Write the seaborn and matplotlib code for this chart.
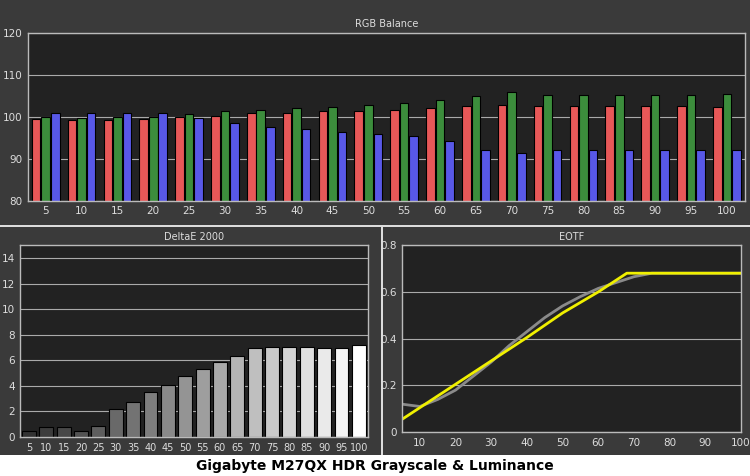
import numpy as np
import pandas as pd
import matplotlib
matplotlib.use("Agg")
import matplotlib.pyplot as plt
from matplotlib.patches import Rectangle
import seaborn as sns

# ============================================================
# Data
# ============================================================

levels = [5, 10, 15, 20, 25, 30, 35, 40, 45, 50, 55, 60, 65, 70, 75, 80, 85, 90, 95, 100]

red = [99.5, 99.2, 99.3, 99.5, 99.9, 100.1, 100.8, 100.8, 101.3, 101.5,
       101.7, 102.0, 102.6, 102.8, 102.6, 102.6, 102.6, 102.6, 102.6, 102.4]
green = [99.9, 99.7, 99.9, 99.9, 100.6, 101.5, 101.7, 102.2, 102.4, 102.8,
         103.3, 103.9, 105.0, 106.0, 105.3, 105.3, 105.3, 105.3, 105.3, 105.5]
blue = [100.8, 101.0, 101.0, 100.8, 99.7, 98.5, 97.6, 97.2, 96.5, 96.0,
        95.4, 94.2, 92.2, 91.3, 92.2, 92.2, 92.2, 92.2, 92.2, 92.2]

delta_e = [0.5, 0.75, 0.75, 0.5, 0.85, 2.2, 2.7, 3.5, 4.1, 4.8,
           5.3, 5.9, 6.3, 6.95, 7.0, 7.0, 7.0, 6.95, 6.95, 7.2]

eotf_meas_x = [5, 10, 15, 20, 25, 30, 35, 40, 45, 50, 55, 60, 65, 70, 75, 80, 85, 90, 95, 100]
eotf_meas_y = [0.12, 0.11, 0.14, 0.18, 0.24, 0.30, 0.37, 0.43, 0.49, 0.54,
               0.58, 0.615, 0.64, 0.665, 0.68, 0.68, 0.68, 0.68, 0.68, 0.68]
eotf_target_x = [5, 10, 20, 30, 40, 50, 60, 68, 100]
eotf_target_y = [0.055, 0.105, 0.205, 0.305, 0.405, 0.51, 0.6, 0.68, 0.68]

title = "Gigabyte M27QX HDR Grayscale & Luminance"

# ============================================================
# Figure
# ============================================================

sns.set_style("dark")
plt.rcParams["font.family"] = ["DejaVu Sans"]

fig = plt.figure(figsize=(7.5, 4.76), dpi=100)
fig.patch.set_facecolor("#3a3a3a")
fig.patches.append(Rectangle((0, 0), 1, 0.045, transform=fig.transFigure,
                             facecolor="white", edgecolor="none", zorder=0))
fig.patches.append(Rectangle((0.508, 0.045), 0.003, 0.48, transform=fig.transFigure,
                             facecolor="#dddddd", edgecolor="none", zorder=0))
fig.patches.append(Rectangle((0, 0.524), 1, 0.003, transform=fig.transFigure,
                             facecolor="#dddddd", edgecolor="none", zorder=0))


def style_ax(ax, name):
    ax.set_facecolor("#222222")
    ax.set_title(name, color="#dddddd", fontsize=7, pad=4)
    ax.tick_params(colors="#dddddd", labelsize=7.5, length=3, pad=1)
    for s in ax.spines.values():
        s.set_color("#bbbbbb")
        s.set_linewidth(1)
    ax.grid(axis="y", color="#aaaaaa", linewidth=0.8)
    ax.grid(axis="x", visible=False)
    ax.set_axisbelow(True)
    ax.set_xlabel("")
    ax.set_ylabel("")


# ============================================================
# RGB Balance
# ============================================================

rgb = pd.DataFrame({
    "level": [str(v) for v in levels] * 3,
    "value": red + green + blue,
    "ch": ["R"] * 20 + ["G"] * 20 + ["B"] * 20,
})

ax1 = fig.add_axes([0.037, 0.578, 0.956, 0.353])
sns.barplot(data=rgb, x="level", y="value", hue="ch", ax=ax1,
            palette={"R": "#ff4040", "G": "#2f9a2f", "B": "#4040ff"},
            edgecolor="black", linewidth=0.8, width=0.8, gap=0.1, legend=False)
ax1.set_ylim(80, 120)
ax1.set_yticks([80, 90, 100, 110, 120])
style_ax(ax1, "RGB Balance")

# ============================================================
# DeltaE 2000
# ============================================================

de = pd.DataFrame({"level": [str(v) for v in levels], "de": delta_e})
grays = [plt.cm.gray(0.2 + 0.8 * i / 19) for i in range(20)]

ax2 = fig.add_axes([0.027, 0.082, 0.463, 0.403])
sns.barplot(data=de, x="level", y="de", hue="level", palette=grays, ax=ax2,
            edgecolor="black", linewidth=0.8, width=0.8, legend=False)
ax2.set_ylim(0, 15)
ax2.set_yticks([0, 2, 4, 6, 8, 10, 12, 14])
style_ax(ax2, "DeltaE 2000")
ax2.tick_params(axis="x", labelsize=7)

# ============================================================
# EOTF
# ============================================================

ax3 = fig.add_axes([0.536, 0.092, 0.452, 0.393])
sns.lineplot(x=eotf_meas_x, y=eotf_meas_y, ax=ax3, color="#8a8a8a", linewidth=2)
sns.lineplot(x=eotf_target_x, y=eotf_target_y, ax=ax3, color="#f0f000", linewidth=2)
ax3.set_xlim(5, 100)
ax3.set_ylim(0, 0.8)
ax3.set_xticks([10, 20, 30, 40, 50, 60, 70, 80, 90, 100])
ax3.set_yticks([0, 0.2, 0.4, 0.6, 0.8])
ax3.set_yticklabels(["0", "0.2", "0.4", "0.6", "0.8"])
style_ax(ax3, "EOTF")

fig.text(0.5, 0.022, title, ha="center", va="center", fontsize=10,
         fontweight="bold", color="black")

fig.savefig("out.png", dpi=100, facecolor=fig.get_facecolor())
